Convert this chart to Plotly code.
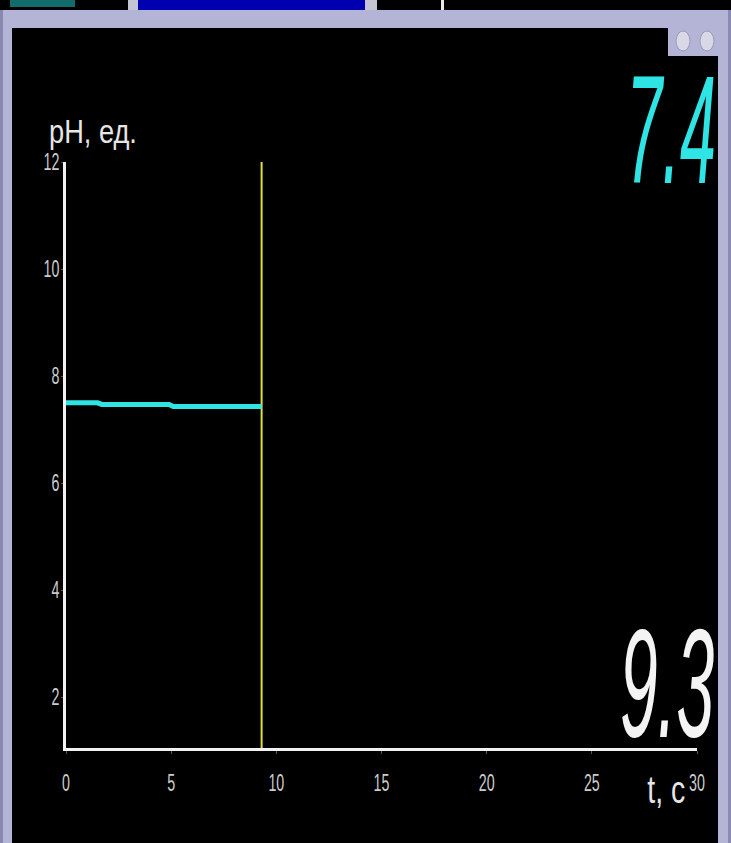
import json
import plotly.graph_objects as go

# pH readings
t_sec = [0, 1.5, 1.7, 4.9, 5.1, 9.3]
ph_values = [7.5, 7.5, 7.47, 7.47, 7.43, 7.43]

cursor_t = 9.3
current_ph = "7.4"
cursor_label = "9.3"

x_ticks = [0, 5, 10, 15, 20, 25, 30]
y_ticks = [2, 4, 6, 8, 10, 12]

# plot area in pixels (used only to place the window frame decoration)
L, R, T, B = 66, 697, 162, 748
W, H = 731, 843


def px(x):
    return (x - L) / (R - L)


def py(y):
    return (B - y) / (B - T)


font = "Liberation Sans, Arial, sans-serif"
lav = "#b4b4d6"

fig = go.Figure()

fig.add_trace(go.Scatter(x=[cursor_t, cursor_t], y=[1.05, 12],
                         mode="lines", line=dict(color="#dede3c", width=2),
                         hoverinfo="skip", showlegend=False))

fig.add_trace(go.Scatter(x=t_sec, y=ph_values, mode="lines",
                         line=dict(color="#2fe4e4", width=5),
                         showlegend=False, cliponaxis=False))

shapes = []


def rect(x0, y0, x1, y1, color):
    shapes.append(dict(type="rect", xref="paper", yref="paper",
                       x0=px(x0), x1=px(x1), y0=py(y1), y1=py(y0),
                       fillcolor=color, layer="below", line=dict(width=0)))


# window chrome around the chart
rect(0, 0, W, 10, "#000000")
rect(10, 0, 75, 7, "#136c6c")
rect(128, 0, 377, 10, "#c4c4d4")
rect(138, 0, 365, 10, "#0000b0")
rect(441, 0, 444, 10, "#e8e8e8")
rect(2, 10, W, 28, lav)
rect(2, 10, 12, H, lav)
rect(0, 10, 3, H, "#8888b0")
rect(718, 10, W, H, lav)
rect(728, 10, W, H, "#8a8ab4")
rect(668, 26, 718, 56, lav)
for cx in (683, 707):
    shapes.append(dict(type="circle", xref="paper", yref="paper",
                       x0=px(cx - 7), x1=px(cx + 7), y0=py(51), y1=py(31),
                       fillcolor="#d8d8e6", line=dict(color="#9a9ab8", width=1)))

annotations = [
    dict(text="pH, ед.", xref="paper", yref="paper", x=px(47), y=py(131),
         xanchor="left", yanchor="middle", showarrow=False,
         font=dict(family=font, size=34, color="#e6e6e6")),
    dict(text="t, c", xref="paper", yref="paper", x=px(666), y=py(790),
         xanchor="center", yanchor="middle", showarrow=False,
         font=dict(family=font, size=38, color="#e6e6e6")),
    dict(text=current_ph, xref="paper", yref="paper", x=px(718), y=py(130),
         xanchor="right", yanchor="middle", showarrow=False,
         font=dict(family=font, size=154, color="#2fe4e4", style="italic")),
    dict(text=cursor_label, xref="paper", yref="paper", x=px(716), y=py(684),
         xanchor="right", yanchor="middle", showarrow=False,
         font=dict(family=font, size=154, color="#f4f4f4", style="italic")),
]
# horizontal squeeze for the condensed lettering of the instrument
squeeze = [[0.8, "start"], [0.75, "middle"], [0.42, "end"], [0.44, "end"]]

fig.update_layout(
    width=W, height=H,
    margin=dict(l=L, r=W - R, t=T, b=H - B, pad=0),
    paper_bgcolor="#000000", plot_bgcolor="#000000",
    shapes=shapes, annotations=annotations,
    xaxis=dict(range=[0, 30], tickvals=x_ticks, showgrid=False, zeroline=False,
               showline=True, linecolor="#f2f2f2", linewidth=3,
               ticks="outside", ticklen=3, tickcolor="#555555",
               ticklabelstandoff=9,
               tickfont=dict(family=font, size=23, color="#cccccc")),
    yaxis=dict(range=[1.05, 12], tickvals=y_ticks, showgrid=False, zeroline=False,
               showline=True, linecolor="#f2f2f2", linewidth=3,
               ticks="outside", ticklen=2, tickcolor="#555555",
               ticklabelstandoff=0,
               tickfont=dict(family=font, size=23, color="#cccccc")),
)

js = """
var gd = document.getElementById('{plot_id}');
var SQ = __SQ__;
function squeeze(el, sx, ax, dx) {
  var b = el.getBBox();
  var cx = ax === 'end' ? b.x + b.width : (ax === 'start' ? b.x : b.x + b.width / 2);
  var cy = b.y + b.height / 2;
  var t = el.getAttribute('transform') || '';
  el.setAttribute('transform', t + ' translate(' + (cx + (dx || 0)) + ',' + cy + ') scale(' + sx + ',1) translate(' + (-cx) + ',' + (-cy) + ')');
}
document.body.style.margin = '0';
SQ.forEach(function (s, i) {
  var el = gd.querySelector('g.annotation[data-index="' + i + '"] text.annotation-text');
  if (el) squeeze(el, s[0], s[1]);
});
gd.querySelectorAll('g.xtick text').forEach(function (el) { squeeze(el, 0.62, 'middle'); });
gd.querySelectorAll('g.ytick text').forEach(function (el) { squeeze(el, 0.62, 'end', 3); });
""".replace("__SQ__", json.dumps(squeeze))

fig.write_html("out.html", post_script=js, config={"displayModeBar": False})
